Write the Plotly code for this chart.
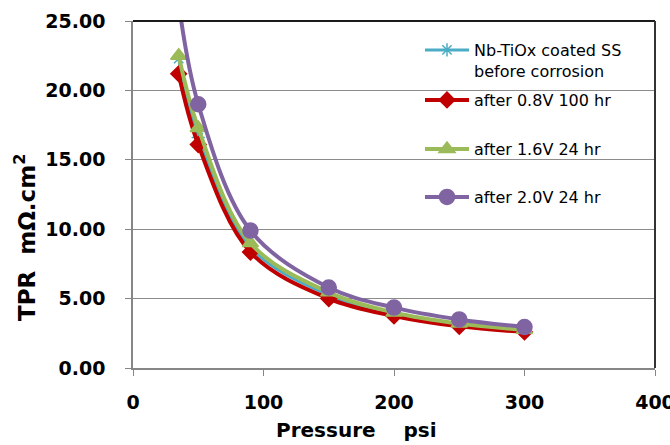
import plotly.graph_objects as go

# pressure (psi) and TPR (mOhm.cm2)
pressure = [35, 50, 90, 150, 200, 250, 300]
tpr_before = [22.3, 16.6, 8.7, 5.25, 3.9, 3.1, 2.65]
tpr_08v = [21.2, 16.1, 8.35, 5.0, 3.75, 3.0, 2.6]
tpr_16v = [22.5, 17.3, 9.0, 5.45, 4.0, 3.2, 2.75]
tpr_20v = [26.3, 19.0, 9.9, 5.8, 4.35, 3.5, 2.95]

names = ['Nb-TiOx coated SS<br>before corrosion', 'after 0.8V 100 hr',
         'after 1.6V 24 hr', 'after 2.0V 24 hr']
x_ticks = [0, 100, 200, 300, 400]
y_ticks = [0, 5, 10, 15, 20, 25]

styles = [
    dict(color='#4BACC6', width=3, symbol='asterisk-open', size=11),
    dict(color='#C00000', width=4, symbol='diamond', size=12),
    dict(color='#9BBB59', width=4, symbol='triangle-up', size=14),
    dict(color='#8064A2', width=4, symbol='circle', size=15),
]
series = [tpr_before, tpr_08v, tpr_16v, tpr_20v]
legend_ids = ['legend', 'legend2', 'legend3', 'legend4']
legend_tops = [33, 83, 132, 180]  # pixel tops of each legend entry

PLOT_TOP, PLOT_BOTTOM, PLOT_LEFT, PLOT_RIGHT = 21, 368, 133, 655
H = PLOT_BOTTOM - PLOT_TOP
W = PLOT_RIGHT - PLOT_LEFT

fig = go.Figure()
for vals, name, st, lid in zip(series, names, styles, legend_ids):
    fig.add_trace(go.Scatter(
        x=pressure, y=vals, name=name, mode='lines+markers',
        line=dict(color=st['color'], width=st['width'], shape='spline', smoothing=1),
        marker=dict(symbol=st['symbol'], size=st['size'], color=st['color'],
                    line=dict(color=st['color'], width=1.5)),
        legend=lid,
    ))

tick_font = dict(family='DejaVu Sans', size=19, color='black', weight='bold')
legend_font = dict(family='DejaVu Sans', size=16, color='black')

layout_legends = {}
for lid, top in zip(legend_ids, legend_tops):
    layout_legends[lid] = dict(
        x=(420 - PLOT_LEFT) / W, y=(PLOT_BOTTOM - top) / H,
        xanchor='left', yanchor='top', bgcolor='rgba(0,0,0,0)',
        font=legend_font, itemwidth=44, valign='top',
    )

fig.update_layout(
    width=670, height=445,
    margin=dict(l=PLOT_LEFT, r=670 - PLOT_RIGHT, t=PLOT_TOP, b=445 - PLOT_BOTTOM),
    paper_bgcolor='white', plot_bgcolor='white',
    showlegend=True,
    **layout_legends,
    xaxis=dict(
        range=[0, 400], tickvals=x_ticks, ticktext=[str(v) for v in x_ticks],
        showgrid=False, zeroline=False, showline=True, linecolor='#868686', linewidth=1.5,
        ticks='outside', ticklen=6, tickcolor='#868686', tickfont=tick_font,
        ticklabelstandoff=10, ticklabeloverflow='allow', automargin=False,
    ),
    yaxis=dict(
        range=[0, 25], tickvals=y_ticks, ticktext=[f'{v:.2f}' for v in y_ticks],
        showgrid=True, gridcolor='#8C8C8C', gridwidth=1.2, zeroline=False,
        showline=True, linecolor='#868686', linewidth=1.5,
        ticks='outside', ticklen=6, tickcolor='#868686', tickfont=tick_font,
        ticklabelstandoff=16, ticklabeloverflow='allow', automargin=False,
    ),
    shapes=[
        dict(type='line', xref='paper', yref='paper', x0=0, x1=1, y0=1, y1=1,
             line=dict(color='#1a1a1a', width=2)),
        dict(type='line', xref='paper', yref='paper', x0=1, x1=1, y0=0, y1=1,
             line=dict(color='#333333', width=2)),
    ],
    annotations=[
        dict(text='TPR  m\u03a9.cm<sup>2</sup>', xref='paper', yref='paper',
             x=(25 - PLOT_LEFT) / W, y=(PLOT_BOTTOM - 238) / H, textangle=-90,
             xanchor='center', yanchor='middle', showarrow=False,
             font=dict(family='DejaVu Sans', size=23, color='black', weight='bold')),
        dict(text='Pressure\u00a0\u00a0\u00a0\u00a0psi', xref='paper', yref='paper',
             x=(356 - PLOT_LEFT) / W, y=(PLOT_BOTTOM - 430) / H,
             xanchor='center', yanchor='middle', showarrow=False,
             font=dict(family='DejaVu Sans', size=20, color='black', weight='bold')),
    ],
)

# drop the page's default body margin so the chart sits at the window's corner
fig.write_html('out.html', config={'displayModeBar': False},
               post_script="document.body.style.margin='0';")
